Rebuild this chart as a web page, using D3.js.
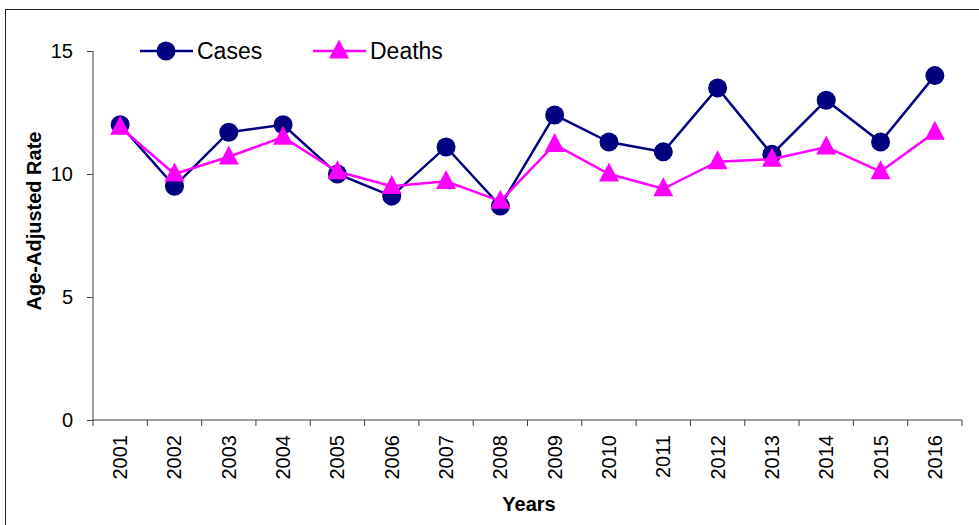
<!DOCTYPE html>
<html>
<head>
<meta charset="utf-8">
<script src="https://cdn.jsdelivr.net/npm/d3@7"></script>
<style>
  body { margin: 0; background: #fff; }
  text { font-family: "Liberation Sans", Arial, sans-serif; }
</style>
</head>
<body>
<svg width="979" height="525"></svg>
<script>
var years = ["2001","2002","2003","2004","2005","2006","2007","2008",
             "2009","2010","2011","2012","2013","2014","2015","2016"];
var cases  = [12.0, 9.5, 11.7, 12.0, 10.0, 9.1, 11.1, 8.7, 12.4, 11.3, 10.9, 13.5, 10.8, 13.0, 11.3, 14.0];
var deaths = [11.9, 10.0, 10.7, 11.5, 10.1, 9.5, 9.7, 8.9, 11.2, 10.0, 9.4, 10.5, 10.6, 11.1, 10.1, 11.7];
var yTicks = [0, 5, 10, 15];

var svg = d3.select("svg");

// outer frame
svg.append("rect")
    .attr("x", 5.5).attr("y", 9.5)
    .attr("width", 1000).attr("height", 600)
    .attr("fill", "none").attr("stroke", "#222").attr("stroke-width", 1);

var plotLeft = 93, plotRight = 962, plotTop = 51, plotBottom = 420;
var axisColor = "#404040";

var x = d3.scaleBand().domain(years).range([plotLeft, plotRight]);
var y = d3.scaleLinear().domain([0, 15]).range([plotBottom, plotTop]);

// y axis
var yAxis = svg.append("g")
    .attr("transform", "translate(" + plotLeft + ",0)")
    .call(d3.axisLeft(y).tickValues(yTicks).tickSize(6).tickPadding(14));
yAxis.select(".domain").attr("stroke", axisColor).attr("d", "M0," + plotTop + "V" + plotBottom);
yAxis.selectAll(".tick line").attr("stroke", axisColor);
yAxis.selectAll("text").attr("font-size", 20).attr("fill", "#000")
    .style("font-family", "Liberation Sans, Arial, sans-serif");

// x axis: ticks on band boundaries
var xg = svg.append("g").attr("transform", "translate(0," + plotBottom + ")");
xg.append("line").attr("x1", plotLeft).attr("x2", plotRight).attr("stroke", axisColor);
xg.selectAll(".xt").data(years.concat(["end"])).enter().append("line")
    .attr("x1", function(d, i) { return plotLeft + i * x.bandwidth(); })
    .attr("x2", function(d, i) { return plotLeft + i * x.bandwidth(); })
    .attr("y1", 0).attr("y2", 6).attr("stroke", axisColor);
xg.selectAll(".xl").data(years).enter().append("text")
    .attr("transform", function(d) {
        return "translate(" + (x(d) + x.bandwidth() / 2 + 7) + ",15) rotate(-90)";
    })
    .attr("text-anchor", "end")
    .attr("font-size", 20)
    .text(function(d) { return d; });

// axis titles
svg.append("text")
    .attr("transform", "translate(41,221) rotate(-90)")
    .attr("text-anchor", "middle")
    .attr("font-size", 20).attr("font-weight", "bold")
    .text("Age-Adjusted Rate");
svg.append("text")
    .attr("x", 529).attr("y", 511)
    .attr("text-anchor", "middle")
    .attr("font-size", 20).attr("font-weight", "bold")
    .text("Years");

var cx = function(d, i) { return x(years[i]) + x.bandwidth() / 2; };
var line = d3.line().x(cx).y(function(d) { return y(d); });

// triangle marker, roughly 20 wide and 19 tall
var triangle = {
    draw: function(ctx, size) {
        var w = 10, h = 19;
        ctx.moveTo(0, -h * 0.6);
        ctx.lineTo(w, h * 0.4);
        ctx.lineTo(-w, h * 0.4);
        ctx.closePath();
    }
};
var tri = d3.symbol().type(triangle);

// cases
svg.append("path").datum(cases)
    .attr("d", line).attr("fill", "none")
    .attr("stroke", "#000080").attr("stroke-width", 2.5);
svg.selectAll(".case").data(cases).enter().append("circle")
    .attr("cx", cx).attr("cy", function(d) { return y(d); })
    .attr("r", 9.5).attr("fill", "#000080");

// deaths
svg.append("path").datum(deaths)
    .attr("d", line).attr("fill", "none")
    .attr("stroke", "#ff00ff").attr("stroke-width", 2.5);
svg.selectAll(".death").data(deaths).enter().append("path")
    .attr("d", tri)
    .attr("transform", function(d, i) { return "translate(" + cx(d, i) + "," + y(d) + ")"; })
    .attr("fill", "#ff00ff");

// legend
var legend = [
    {name: "Cases", color: "#000080", x: 140, shape: "circle"},
    {name: "Deaths", color: "#ff00ff", x: 313, shape: "tri"}
];
var lg = svg.selectAll(".lg").data(legend).enter().append("g")
    .attr("transform", function(d) { return "translate(" + d.x + ",51)"; });
lg.append("line").attr("x1", 0).attr("x2", 53)
    .attr("stroke", function(d) { return d.color; }).attr("stroke-width", 2.5);
lg.each(function(d) {
    var g = d3.select(this);
    if (d.shape == "circle") {
        g.append("circle").attr("cx", 26).attr("r", 9.5).attr("fill", d.color);
    } else {
        g.append("path").attr("d", tri).attr("transform", "translate(26,0)").attr("fill", d.color);
    }
});
lg.append("text").attr("x", 57).attr("y", 8)
    .attr("font-size", 23)
    .text(function(d) { return d.name; });
</script>
</body>
</html>
